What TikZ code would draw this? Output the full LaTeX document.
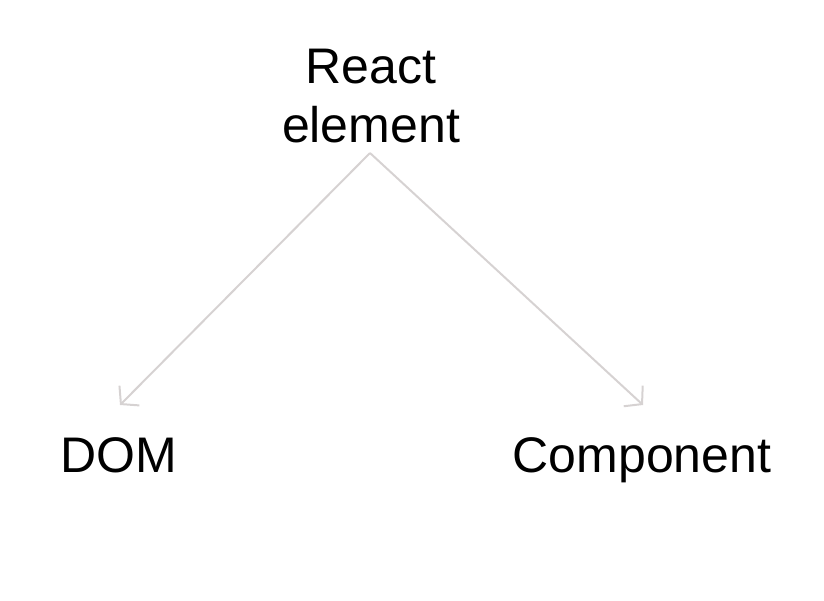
\documentclass[tikz,border=0pt]{standalone}
\usepackage{fontspec}
\setmainfont{Liberation Sans}
\usetikzlibrary{arrows.meta}
\definecolor{edgegray}{RGB}{214,210,210}
\begin{document}
\begin{tikzpicture}[x=1pt,y=-1pt,
  lbl/.style={font=\fontsize{50}{59}\selectfont, inner sep=0pt, align=center, text=black},
  edge/.style={draw=edgegray, line width=2pt, -{Straight Barb[length=12pt,width=28pt,line width=2pt]}}]
\useasboundingbox (0,0) rectangle (824,600);
\node[lbl, anchor=base] (react) at (371,142) {React\\element};
\node[lbl, anchor=base] (dom) at (119,472) {DOM};
\node[lbl, anchor=base] (comp) at (642,472) {Component};
\coordinate (apex) at (370,153);
\coordinate (domtip) at (120,405);
\coordinate (comptip) at (643,405);
\draw[edge] (apex) -- (domtip);
\draw[edge] (apex) -- (comptip);
\end{tikzpicture}
\end{document}
